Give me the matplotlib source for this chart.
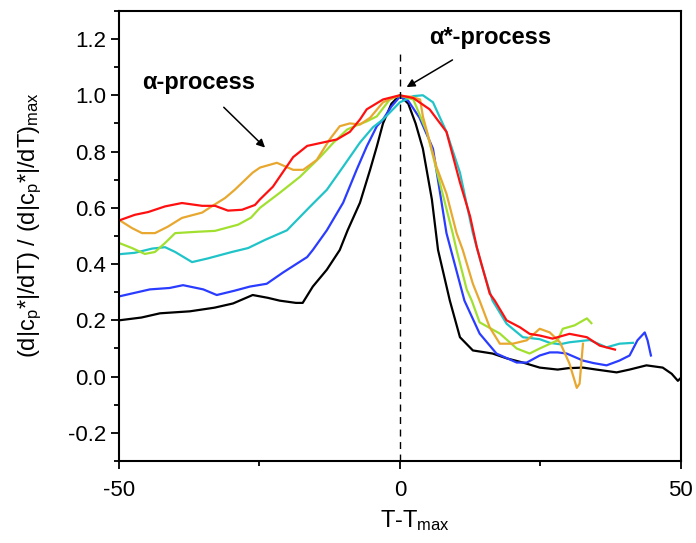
import numpy as np
import matplotlib
matplotlib.use('Agg')
import matplotlib.pyplot as plt
from matplotlib.ticker import MultipleLocator

plt.rcParams['font.family'] = ['Liberation Sans', 'DejaVu Sans']
plt.rcParams['mathtext.default'] = 'regular'
plt.rcParams['axes.unicode_minus'] = False

# curves, normalised to the peak
black_x = [-50, -46, -42.7, -37.4, -33, -29.7, -26.2, -23.5, -21.4, -18.5, -17.3, -15.5, -13, -10.7, -9.3,
           -7.1, -5.3, -4.1, -3, -1.5, 0, 1.5, 2.8, 4.1, 5.7, 6.8, 8.9, 10.7, 13, 16.5, 19, 21.9, 24.9,
           28.1, 30, 32.6, 35, 38.6, 40.9, 43.9, 46.8, 48.4, 49.5, 50]
black_y = [0.20, 0.21, 0.225, 0.232, 0.245, 0.26, 0.29, 0.28, 0.27, 0.262, 0.262, 0.32, 0.38, 0.45, 0.52,
           0.618, 0.735, 0.818, 0.9, 0.97, 1.0, 0.97, 0.9, 0.81, 0.63, 0.45, 0.27, 0.14, 0.093, 0.082, 0.065,
           0.05, 0.032, 0.025, 0.03, 0.032, 0.025, 0.015, 0.025, 0.04, 0.032, 0.01, -0.015, -0.005]

blue_x = [-50, -44.5, -41, -38.6, -35, -32.6, -29.5, -26.7, -23.7, -20.8, -16.5, -15.5, -13, -10.1, -7.7,
          -5.9, -4.1, -3, -1.5, 0, 1.5, 3.5, 5.9, 8.3, 9.5, 11.5, 14.2, 17.2, 20.8, 22.6, 24.9, 26.7, 28.1,
          29.7, 32.6, 34.5, 36.8, 39.1, 40.9, 42.3, 43.6, 44.1, 44.7]
blue_y = [0.285, 0.31, 0.315, 0.325, 0.31, 0.29, 0.305, 0.32, 0.33, 0.37, 0.425, 0.45, 0.52, 0.618, 0.735,
          0.818, 0.89, 0.914, 0.96, 0.995, 0.98, 0.92, 0.81, 0.51, 0.42, 0.27, 0.153, 0.082, 0.05, 0.05,
          0.075, 0.086, 0.086, 0.082, 0.057, 0.048, 0.04, 0.057, 0.075, 0.129, 0.157, 0.129, 0.075]

cyan_x = [-50, -47.2, -44.1, -41.8, -40, -37, -34.2, -29.9, -27, -24, -20.1, -16, -13, -10.1, -7.1, -4.8,
          -3, 0, 2.4, 4.1, 5.9, 8.3, 10.7, 13, 14.5, 16.5, 19, 21.9, 24.9, 26.7, 28.5, 30.2, 33.8, 36.8,
          39.1, 41.5]
cyan_y = [0.435, 0.44, 0.455, 0.46, 0.443, 0.407, 0.42, 0.443, 0.457, 0.486, 0.52, 0.604, 0.664, 0.746,
          0.832, 0.886, 0.914, 0.975, 0.997, 1.0, 0.975, 0.87, 0.725, 0.51, 0.4, 0.27, 0.188, 0.14, 0.133,
          0.12, 0.115, 0.122, 0.13, 0.104, 0.117, 0.12]

green_x = [-50, -47.7, -45.4, -43.6, -41.8, -40, -35.9, -32.9, -28.8, -26.5, -24.9, -21.4, -17.8, -14.2,
           -11.9, -9.4, -7.7, -5.9, -4.1, -1.8, 0, 2.4, 4.8, 7.1, 9.4, 10.1, 11.9, 12.8, 14.2, 17.8, 20.8,
           23.1, 24.9, 28.1, 29, 31.1, 33.3, 34.1]
green_y = [0.475, 0.457, 0.436, 0.443, 0.475, 0.51, 0.515, 0.518, 0.54, 0.565, 0.6, 0.653, 0.71, 0.78,
           0.83, 0.878, 0.893, 0.907, 0.925, 0.985, 1.0, 0.985, 0.87, 0.69, 0.51, 0.45, 0.31, 0.27, 0.193,
           0.153, 0.1, 0.082, 0.1, 0.129, 0.17, 0.182, 0.207, 0.19]

orange_x = [-50, -47.7, -45.9, -43.6, -41.3, -38.8, -35.2, -33.5, -31.1, -29.4, -26.2, -24.9, -21.9, -19,
            -17.2, -14.8, -12.5, -10.7, -8.9, -7.1, -5.3, -3, -0.5, 2, 3.6, 4.1, 6.5, 8.3, 10.1, 11.2, 13,
            14.2, 16, 17.8, 20.1, 22.6, 24.9, 26.7, 28.5, 30.2, 31.5, 32, 32.6]
orange_y = [0.557, 0.528, 0.51, 0.51, 0.533, 0.564, 0.583, 0.605, 0.635, 0.664, 0.725, 0.743, 0.76, 0.735,
            0.735, 0.77, 0.843, 0.89, 0.9, 0.896, 0.92, 0.975, 0.997, 0.995, 0.985, 0.925, 0.747, 0.65,
            0.51, 0.45, 0.33, 0.27, 0.175, 0.117, 0.117, 0.129, 0.17, 0.157, 0.122, 0.046, -0.04, -0.025,
            0.117]

red_x = [-50, -47.2, -44.8, -41.8, -38.8, -35.2, -32.9, -30.6, -28.1, -25.8, -24.9, -22.6, -19, -16.5,
         -14.2, -11.2, -8.9, -7.1, -5.9, -3, 0, 2.4, 5.3, 8.3, 10.7, 12.5, 13.7, 16, 16.9, 19, 21.4, 23.1,
         24.9, 27.2, 30.2, 33.3, 35.6, 38.3]
red_y = [0.555, 0.575, 0.585, 0.605, 0.617, 0.607, 0.607, 0.59, 0.593, 0.61, 0.63, 0.675, 0.78, 0.82,
         0.83, 0.843, 0.87, 0.914, 0.95, 0.985, 1.0, 0.99, 0.95, 0.87, 0.69, 0.57, 0.46, 0.295, 0.27, 0.2,
         0.175, 0.152, 0.146, 0.135, 0.152, 0.14, 0.11, 0.096]

series = [
    (black_x, black_y, 'black'),
    (blue_x, blue_y, '#2a3cff'),
    (cyan_x, cyan_y, '#20c4c8'),
    (green_x, green_y, '#a2e030'),
    (orange_x, orange_y, '#e8a830'),
    (red_x, red_y, '#ff1010'),
]

fig = plt.figure(figsize=(6.96, 5.43), dpi=100)
ax = fig.add_axes([0.171, 0.151, 0.807, 0.829])

for xs, ys, c in series:
    ax.plot(xs, ys, color=c, lw=1.6)

# T = Tmax marker
ax.plot([0, 0], [-0.3, 1.15], color='black', lw=1.0, ls=(0, (5, 4)))

ax.annotate('\u03b1-process', xy=(-24, 0.814), xytext=(-35.9, 1.046),
            ha='center', va='center', fontsize=17, fontweight='bold',
            arrowprops=dict(arrowstyle='-|>', color='black', lw=1.1, mutation_scale=12, shrinkA=11, shrinkB=0))
ax.annotate('\u03b1*-process', xy=(1.2, 1.029), xytext=(16, 1.204),
            ha='center', va='center', fontsize=17, fontweight='bold',
            arrowprops=dict(arrowstyle='-|>', color='black', lw=1.1, mutation_scale=12, shrinkA=11, shrinkB=0))

ax.set_xlim(-50, 50)
ax.set_ylim(-0.3, 1.3)
ax.set_xticks([-50, 0, 50])
ax.xaxis.set_minor_locator(MultipleLocator(25))
ax.yaxis.set_minor_locator(MultipleLocator(0.1))
ax.set_yticks(np.arange(-0.2, 1.21, 0.2))
ax.set_yticklabels(['%.1f' % v for v in np.arange(-0.2, 1.21, 0.2)])
ax.tick_params(which='major', direction='out', length=6, width=1.3, labelsize=16)
ax.tick_params(axis='x', which='major', pad=8)
ax.tick_params(which='minor', direction='out', length=3.5, width=1.3)
for s in ax.spines.values():
    s.set_linewidth(1.5)

ax.set_xlabel('T-T$_{max}$', fontsize=17, ha='left')
ax.xaxis.set_label_coords(0.464, -0.105)
ax.set_ylabel('(d|c$_{p}$*|/dT) / (d|c$_{p}$*|/dT)$_{max}$', fontsize=17)
ax.yaxis.set_label_coords(-0.133, 0.523)

fig.savefig('out.png', dpi=100)
